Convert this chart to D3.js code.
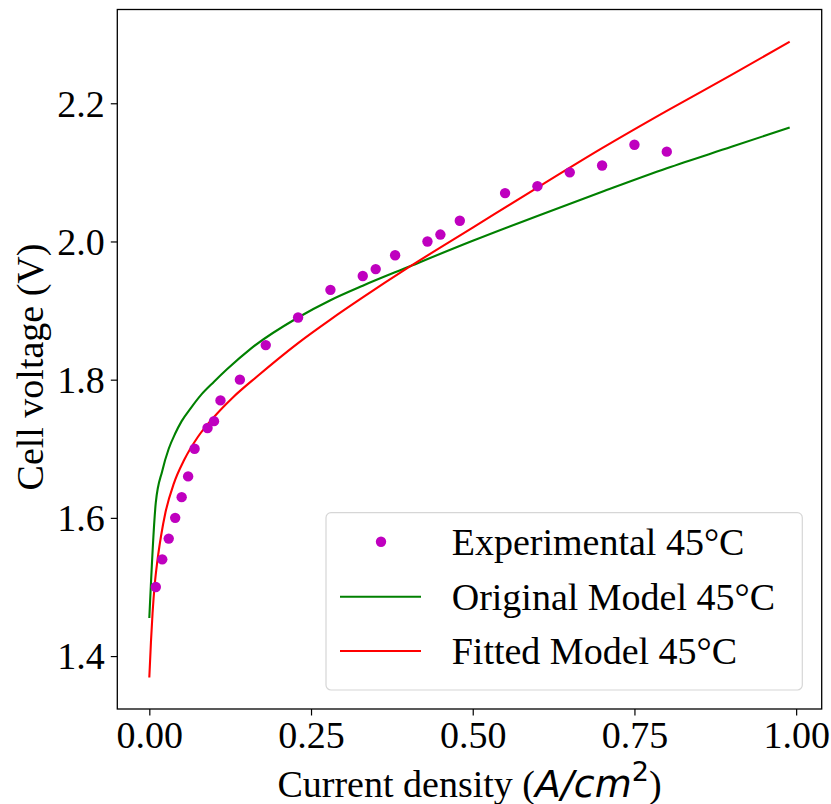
<!DOCTYPE html>
<html>
<head>
<meta charset="utf-8">
<script src="https://cdn.jsdelivr.net/npm/d3@7"></script>
<style>
  html, body { margin: 0; padding: 0; background: #ffffff; }
  svg { display: block; }
</style>
</head>
<body>
<svg id="chart" width="831" height="804"></svg>
<script>
// ---------------- data ----------------
const expCurrent = [0.01, 0.02, 0.03, 0.04, 0.05, 0.06, 0.07, 0.09, 0.10, 0.11, 0.14, 0.18, 0.23, 0.28, 0.33, 0.35, 0.38, 0.43, 0.45, 0.48, 0.55, 0.60, 0.65, 0.70, 0.75, 0.80];
const expVoltage = [1.50, 1.54, 1.57, 1.60, 1.63, 1.66, 1.70, 1.73, 1.74, 1.77, 1.80, 1.85, 1.89, 1.93, 1.95, 1.96, 1.98, 2.00, 2.01, 2.03, 2.07, 2.08, 2.10, 2.11, 2.14, 2.13];

const origCurrent = [0.0, 0.01, 0.02, 0.03, 0.04, 0.05, 0.065, 0.08, 0.10, 0.12, 0.157, 0.23, 0.28, 0.33, 0.40, 0.50, 0.60, 0.70, 0.80, 0.90, 0.99];
const origVoltage = [1.455, 1.622, 1.668, 1.700, 1.722, 1.740, 1.760, 1.778, 1.797, 1.815, 1.845, 1.890, 1.915, 1.936, 1.963, 2.001, 2.037, 2.072, 2.106, 2.137, 2.165];

const fitCurrent = [0.0, 0.0025, 0.005, 0.0085, 0.0125, 0.018, 0.025, 0.038, 0.054, 0.075, 0.10, 0.13, 0.167, 0.23, 0.28, 0.33, 0.40, 0.50, 0.60, 0.70, 0.80, 0.90, 0.99];
const fitVoltage = [1.369, 1.420, 1.462, 1.505, 1.538, 1.573, 1.608, 1.650, 1.684, 1.717, 1.746, 1.775, 1.805, 1.853, 1.887, 1.919, 1.962, 2.020, 2.078, 2.135, 2.189, 2.241, 2.289];

const xTicks = [0.00, 0.25, 0.50, 0.75, 1.00];
const yTicks = [1.4, 1.6, 1.8, 2.0, 2.2];

const legendLabels = ["Experimental 45°C", "Original Model 45°C", "Fitted Model 45°C"];

// ---------------- layout ----------------
const svg = d3.select("#chart");
const L = 117.3, R = 821.7, T = 9.5, B = 709;
const serif = "'Liberation Serif', 'Times New Roman', Times, serif";
const fs = 38;

const x = d3.scaleLinear().domain([-0.0495, 1.0395]).range([L, R]);
const y = d3.scaleLinear().domain([1.3234, 2.3357]).range([B, T]);

const toPts = (xs, ys) => xs.map((v, i) => [v, ys[i]]);
const line = d3.line().x(d => x(d[0])).y(d => y(d[1])).curve(d3.curveMonotoneX);

const plot = svg.append("g");
plot.append("path").datum(toPts(origCurrent, origVoltage))
  .attr("d", line).attr("fill", "none").attr("stroke", "#008000").attr("stroke-width", 2.1);
plot.append("path").datum(toPts(fitCurrent, fitVoltage))
  .attr("d", line).attr("fill", "none").attr("stroke", "#ff0000").attr("stroke-width", 2.1);
plot.selectAll("circle.exp").data(toPts(expCurrent, expVoltage)).enter()
  .append("circle").attr("class", "exp")
  .attr("cx", d => x(d[0])).attr("cy", d => y(d[1])).attr("r", 5.2)
  .attr("fill", "#bf00bf");

// axes
const xAxis = d3.axisBottom(x).tickValues(xTicks).tickFormat(d3.format(".2f")).tickSize(6.5).tickPadding(6);
const yAxis = d3.axisLeft(y).tickValues(yTicks).tickFormat(d3.format(".1f")).tickSize(6.5).tickPadding(6);

const gx = svg.append("g").attr("transform", `translate(0,${B})`).call(xAxis);
const gy = svg.append("g").attr("transform", `translate(${L},0)`).call(yAxis);
[gx, gy].forEach(g => {
  g.select(".domain").remove();
  g.selectAll(".tick line").attr("stroke", "#000").attr("stroke-width", 1.2);
  g.selectAll(".tick text").attr("fill", "#000").style("font-family", serif).style("font-size", fs + "px");
});
gy.selectAll(".tick text").attr("dy", "0.34em");
gx.selectAll(".tick text").attr("dy", "0.71em");

// frame
svg.append("rect").attr("x", L).attr("y", T).attr("width", R - L).attr("height", B - T)
  .attr("fill", "none").attr("stroke", "#000").attr("stroke-width", 1.3);

// axis labels
svg.append("text")
  .attr("transform", `translate(42.5,367) rotate(-90)`)
  .attr("text-anchor", "middle")
  .style("font-family", serif).style("font-size", fs + "px").attr("fill", "#000")
  .text("Cell voltage (V)");

const xl = svg.append("text")
  .attr("x", (L + R) / 2).attr("y", 796.5)
  .attr("text-anchor", "middle")
  .style("font-family", serif).style("font-size", fs + "px").attr("fill", "#000");
xl.append("tspan").text("Current density (");
xl.append("tspan").style("font-family", "'DejaVu Sans'").style("font-style", "italic").text("A/cm");
xl.append("tspan").style("font-family", "'DejaVu Sans'").style("font-size", "27px").attr("dy", -16).text("2");
xl.append("tspan").attr("dy", 16).text(")");

// legend
const lg = svg.append("g");
lg.append("rect").attr("x", 326).attr("y", 512.7).attr("width", 476.3).attr("height", 177.3)
  .attr("rx", 5).attr("ry", 5)
  .attr("fill", "#ffffff").attr("fill-opacity", 0.8)
  .attr("stroke", "#d6d6d6").attr("stroke-width", 1.2);
const rows = [541.7, 596.7, 651];
lg.append("circle").attr("cx", 381).attr("cy", rows[0]).attr("r", 5.2).attr("fill", "#bf00bf");
lg.append("line").attr("x1", 340).attr("x2", 421).attr("y1", rows[1]).attr("y2", rows[1])
  .attr("stroke", "#008000").attr("stroke-width", 2.1);
lg.append("line").attr("x1", 340).attr("x2", 421).attr("y1", rows[2]).attr("y2", rows[2])
  .attr("stroke", "#ff0000").attr("stroke-width", 2.1);
lg.selectAll("text.lbl").data(legendLabels).enter().append("text").attr("class", "lbl")
  .attr("x", 451.7).attr("y", (d, i) => rows[i]).attr("dy", "0.34em")
  .style("font-family", serif).style("font-size", fs + "px").attr("fill", "#000")
  .text(d => d);
</script>
</body>
</html>
